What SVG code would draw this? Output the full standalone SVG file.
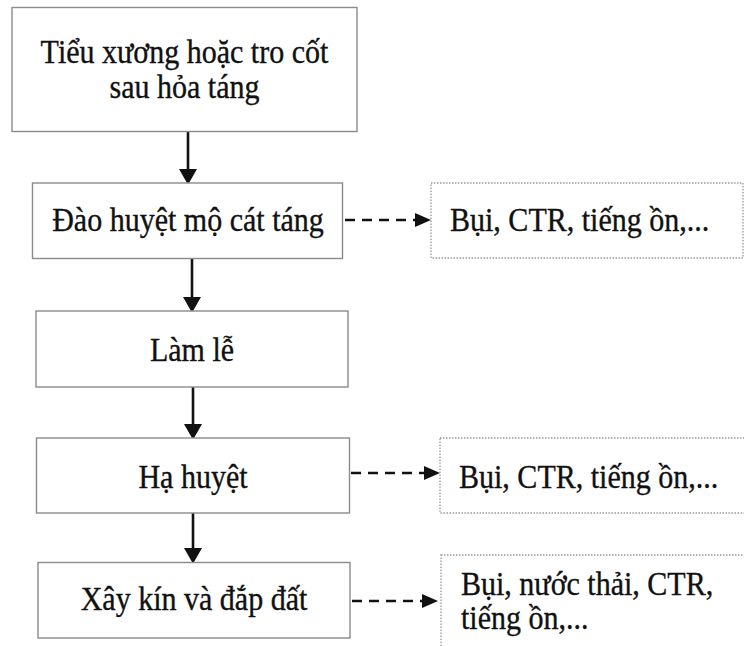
<svg xmlns="http://www.w3.org/2000/svg" width="744" height="646" viewBox="0 0 744 646">
<defs>
<style>
.box{fill:#fff;stroke:#8a8a8a;stroke-width:1.4}
.out{fill:#fff;stroke:#9a9a9a;stroke-width:1.3;stroke-dasharray:1.5 1.5}
.t{font-family:"Liberation Serif","Times New Roman",serif;font-size:33px;fill:#111;stroke:#111;stroke-width:0.35}
.c{text-anchor:middle}
.flow{stroke:#111;stroke-width:2.6;fill:none}
.dash{stroke:#111;stroke-width:2.6;fill:none;stroke-dasharray:10 7}
</style>
<marker id="ah" markerUnits="userSpaceOnUse" markerWidth="16" markerHeight="18" refX="0" refY="8" orient="auto" viewBox="0 0 14 16">
<path d="M0,0 L14,8 L0,16 Z" fill="#111"/>
</marker>
<marker id="ahd" markerUnits="userSpaceOnUse" markerWidth="16" markerHeight="14" refX="0" refY="6.5" orient="auto" viewBox="0 0 15 13">
<path d="M0,0 L15,6.5 L0,13 Z" fill="#111"/>
</marker>
</defs>
<rect width="744" height="646" fill="#fff"/>
<g id="connectors">
<line class="flow" x1="188" y1="132" x2="188" y2="169" marker-end="url(#ah)"/>
<line class="flow" x1="192" y1="259" x2="192" y2="297" marker-end="url(#ah)"/>
<line class="flow" x1="193" y1="387" x2="193" y2="424" marker-end="url(#ah)"/>
<line class="flow" x1="193" y1="513" x2="193" y2="548" marker-end="url(#ah)"/>
<line class="dash" x1="345" y1="220" x2="415" y2="220" marker-end="url(#ahd)"/>
<line class="dash" x1="351" y1="473" x2="424" y2="473" marker-end="url(#ahd)"/>
<line class="dash" x1="352" y1="601" x2="422" y2="601" marker-end="url(#ahd)"/>
</g>
<g id="n1">
<rect class="box" x="12" y="7.5" width="345" height="124"/>
<text class="t c" transform="translate(184.5,63) scale(0.91,1)">Tiểu xương hoặc tro cốt</text>
<text class="t c" transform="translate(184.5,98) scale(0.91,1)">sau hỏa táng</text>
</g>
<g id="n2">
<rect class="box" x="32.5" y="183" width="310" height="75.5"/>
<text class="t c" transform="translate(188,231) scale(0.91,1)">Đào huyệt mộ cát táng</text>
</g>
<g id="n3">
<rect class="box" x="36" y="311" width="312" height="76"/>
<text class="t c" transform="translate(192,361) scale(0.91,1)">Làm lễ</text>
</g>
<g id="n4">
<rect class="box" x="36.5" y="438" width="313" height="75"/>
<text class="t c" transform="translate(193,488) scale(0.91,1)">Hạ huyệt</text>
</g>
<g id="n5">
<rect class="box" x="38" y="562.5" width="312" height="75.5"/>
<text class="t c" transform="translate(194,610) scale(0.91,1)">Xây kín và đắp đất</text>
</g>
<g id="o1">
<rect class="out" x="431" y="183" width="312" height="75"/>
<text class="t" transform="translate(450,231) scale(0.91,1)">Bụi, CTR, tiếng ồn,...</text>
</g>
<g id="o2">
<rect class="out" x="440" y="438" width="310" height="75"/>
<text class="t" transform="translate(459,488) scale(0.91,1)">Bụi, CTR, tiếng ồn,...</text>
</g>
<g id="o3">
<rect class="out" x="441" y="555" width="310" height="100"/>
<text class="t" transform="translate(461,595) scale(0.91,1)">Bụi, nước thải, CTR,</text>
<text class="t" transform="translate(461,629) scale(0.91,1)">tiếng ồn,...</text>
</g>
</svg>
